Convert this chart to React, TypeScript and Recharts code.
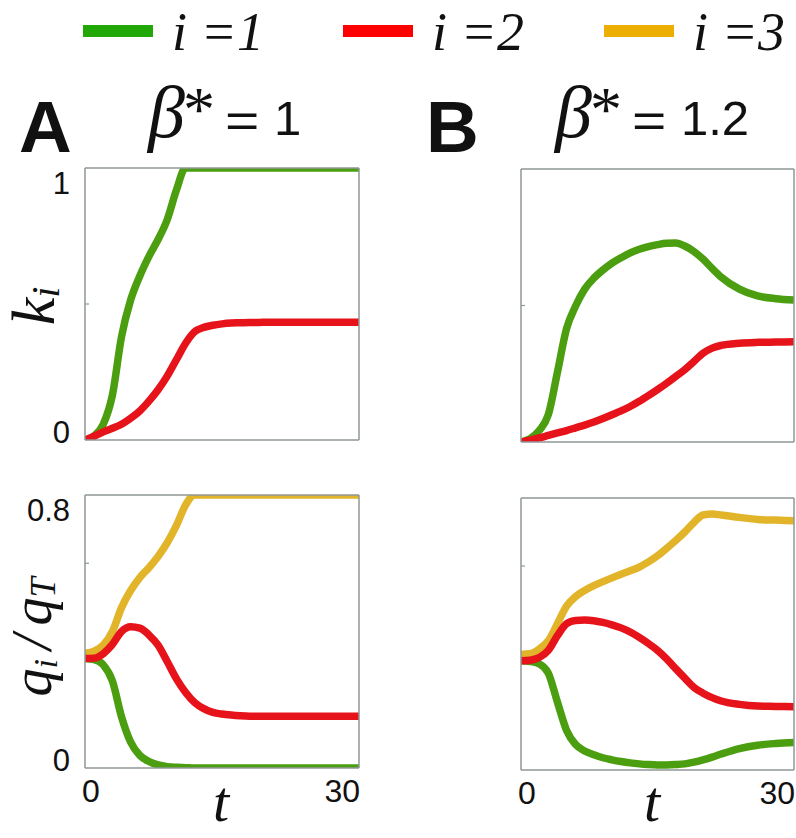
import { LineChart, Line, XAxis, YAxis } from 'recharts'

// time grid shared by all four panels
const tGrid = [0, 1, 2, 3, 4, 5, 6, 7, 8, 9, 10, 11, 12, 13, 14, 15, 16, 17, 18, 19, 20, 21, 22, 24, 26, 28, 30]

// panel A, k_i  (beta* = 1)
const kA1 = [0, 0.015, 0.058, 0.165, 0.38, 0.515, 0.603, 0.675, 0.737, 0.81, 0.918, 1, 1, 1, 1, 1, 1, 1, 1, 1, 1, 1, 1, 1, 1, 1, 1]
const kA2 = [0, 0.014, 0.03, 0.043, 0.058, 0.08, 0.107, 0.143, 0.185, 0.235, 0.295, 0.355, 0.398, 0.414, 0.422, 0.427, 0.43, 0.431, 0.432, 0.432, 0.433, 0.433, 0.433, 0.433, 0.433, 0.433, 0.433]

// panel B, k_i  (beta* = 1.2)
const kB1 = [0, 0.012, 0.042, 0.1, 0.255, 0.415, 0.498, 0.56, 0.6, 0.63, 0.655, 0.675, 0.693, 0.706, 0.716, 0.723, 0.728, 0.729, 0.718, 0.698, 0.67, 0.636, 0.604, 0.56, 0.535, 0.525, 0.52]
const kB2 = [0, 0.007, 0.015, 0.024, 0.033, 0.042, 0.052, 0.062, 0.073, 0.086, 0.1, 0.114, 0.13, 0.149, 0.17, 0.192, 0.215, 0.24, 0.265, 0.295, 0.325, 0.344, 0.354, 0.362, 0.365, 0.366, 0.367]

// panel A, q_i / q_T
const qA1 = [0.321, 0.318, 0.302, 0.255, 0.15, 0.076, 0.037, 0.019, 0.009, 0.004, 0.002, 0.001, 0, 0, 0, 0, 0, 0, 0, 0, 0, 0, 0, 0, 0, 0, 0]
const qA2 = [0.321, 0.322, 0.335, 0.362, 0.4, 0.414, 0.41, 0.39, 0.36, 0.312, 0.262, 0.222, 0.192, 0.174, 0.163, 0.158, 0.155, 0.153, 0.152, 0.152, 0.152, 0.152, 0.152, 0.152, 0.152, 0.152, 0.152]
const qA3 = [0.336, 0.342, 0.36, 0.4, 0.47, 0.52, 0.558, 0.587, 0.62, 0.66, 0.71, 0.77, 0.8, 0.8, 0.8, 0.8, 0.8, 0.8, 0.8, 0.8, 0.8, 0.8, 0.8, 0.8, 0.8, 0.8, 0.8]

// panel B, q_i / q_T
const qB1 = [0.321, 0.319, 0.312, 0.285, 0.2, 0.117, 0.075, 0.056, 0.045, 0.036, 0.03, 0.025, 0.021, 0.018, 0.016, 0.015, 0.015, 0.016, 0.018, 0.023, 0.03, 0.038, 0.047, 0.063, 0.073, 0.078, 0.081]
const qB2 = [0.321, 0.323, 0.331, 0.352, 0.395, 0.43, 0.44, 0.441, 0.439, 0.434, 0.427, 0.418, 0.406, 0.39, 0.372, 0.352, 0.327, 0.298, 0.27, 0.243, 0.226, 0.213, 0.203, 0.193, 0.188, 0.187, 0.186]
const qB3 = [0.34, 0.342, 0.356, 0.38, 0.43, 0.482, 0.51, 0.528, 0.542, 0.554, 0.565, 0.576, 0.586, 0.597, 0.612, 0.63, 0.652, 0.675, 0.7, 0.728, 0.75, 0.753, 0.75, 0.743, 0.737, 0.735, 0.733]

const kTicks = [0, 0.5, 1]
const qTicks = [0, 0.6, 0.8]
const xTicks = [0, 30]
const legendLabels = ['1', '2', '3']

const data = tGrid.map((t, i) => ({
  t,
  kA1: kA1[i], kA2: kA2[i], kB1: kB1[i], kB2: kB2[i],
  qA1: qA1[i], qA2: qA2[i], qA3: qA3[i],
  qB1: qB1[i], qB2: qB2[i], qB3: qB3[i],
}))

const GREEN = '#4b9e10'
const RED = '#e6141a'
const YELLOW = '#e2b42a'
const AXIS = '#8f9797'
const INK = '#111'
const SANS = '"Liberation Sans", Arial, sans-serif'
const SERIF = '"Liberation Serif", "Times New Roman", serif'

const makeLeftTick = (yMax: number, show: boolean) => (p: any) => {
  const v = p.payload.value
  const inner = v !== 0 && v !== yMax
  return (
    <g>
      {inner && <line x1={p.x} x2={p.x + 4} y1={p.y} y2={p.y} stroke={AXIS} strokeWidth={1.2} />}
      {show && !inner && (
        <text x={p.x - 15} y={p.y + (v === yMax ? 26 : 3)} textAnchor="end" fontFamily={SANS} fontSize={31} fill={INK}>
          {String(v)}
        </text>
      )}
    </g>
  )
}

const makeRightTick = (yMax: number) => (p: any) => {
  const v = p.payload.value
  if (v === 0 || v === yMax) return <g />
  return <line x1={p.x - 4} x2={p.x} y1={p.y} y2={p.y} stroke={AXIS} strokeWidth={1.2} />
}

const bottomTick = (p: any) => {
  const v = p.payload.value
  return (
    <text x={v === 0 ? p.x - 3 : p.x + 1} y={p.y + 34} textAnchor={v === 0 ? 'start' : 'end'} fontFamily={SANS} fontSize={32} fill={INK}>
      {String(v)}
    </text>
  )
}

interface PanelProps {
  left: number
  top: number
  width: number
  height: number
  rightW: number
  bottomH: number
  yMax: number
  yTicks: number[]
  showY: boolean
  showX: boolean
  series: { key: string; color: string }[]
}

function Panel({ left, top, width, height, rightW, bottomH, yMax, yTicks, showY, showX, series }: PanelProps) {
  const axisLine = { stroke: AXIS, strokeWidth: 1.5 }
  return (
    <div style={{ position: 'absolute', left, top }}>
      <LineChart width={width} height={height} data={data} margin={{ top: 0, right: 0, bottom: 0, left: 0 }}>
        <XAxis dataKey="t" type="number" domain={[0, 30]} ticks={xTicks} interval={0} allowDataOverflow
          height={bottomH} tickSize={0} tickMargin={0} axisLine={axisLine} tickLine={false}
          tick={showX ? bottomTick : false} />
        <XAxis xAxisId="top" orientation="top" dataKey="t" type="number" domain={[0, 30]} height={10}
          axisLine={axisLine} tickLine={false} tick={false} />
        <YAxis type="number" domain={[0, yMax]} ticks={yTicks} interval={0} allowDataOverflow width={85}
          tickSize={0} tickMargin={0} axisLine={axisLine} tickLine={false} tick={makeLeftTick(yMax, showY)} />
        <YAxis yAxisId="right" orientation="right" type="number" domain={[0, yMax]} ticks={yTicks} interval={0}
          width={rightW} tickSize={0} tickMargin={0} axisLine={axisLine} tickLine={false} tick={makeRightTick(yMax)} />
        {series.map(s => (
          <Line key={s.key} dataKey={s.key} type="monotone" stroke={s.color} strokeWidth={7.5}
            dot={false} activeDot={false} isAnimationActive={false} />
        ))}
      </LineChart>
    </div>
  )
}

function Title({ x, letter, value }: { x: number; letter: string; value: string }) {
  return (
    <g>
      <text x={x} y={152} fontFamily={SANS} fontWeight="bold" fontSize={73} fill={INK}>{letter}</text>
      <text x={x + 129} y={137} fontFamily={SERIF} fontStyle="italic" fontSize={74} fill={INK}>β</text>
      <text x={x + 164} y={131} fontFamily={SERIF} fontSize={64} fill={INK}>*</text>
      <text transform={`translate(${x + 206},137) scale(1.2,1)`} fontFamily={SANS} fontSize={49} fill={INK}>=</text>
      <text x={x + 255} y={135} fontFamily={SANS} fontSize={49} fill={INK}>{value}</text>
    </g>
  )
}

export default function App() {
  const legendColors = ['#22a806', '#ff0000', '#ecae00']
  const legendX = [83, 343, 604]
  return (
    <div style={{ position: 'relative', width: 796, height: 838, background: '#fff', overflow: 'hidden' }}>
      <style>{'body{margin:0}'}</style>
      <Panel left={0} top={158} width={365} height={292} rightW={6} bottomH={10} yMax={1} yTicks={kTicks}
        showY showX={false} series={[{ key: 'kA1', color: GREEN }, { key: 'kA2', color: RED }]} />
      <Panel left={436} top={159} width={360} height={293} rightW={2} bottomH={10} yMax={1} yTicks={kTicks}
        showY={false} showX={false} series={[{ key: 'kB1', color: GREEN }, { key: 'kB2', color: RED }]} />
      <Panel left={0} top={485} width={365} height={343} rightW={6} bottomH={60} yMax={0.8} yTicks={qTicks}
        showY showX series={[{ key: 'qA3', color: YELLOW }, { key: 'qA1', color: GREEN }, { key: 'qA2', color: RED }]} />
      <Panel left={436} top={488} width={360} height={342} rightW={2} bottomH={60} yMax={0.8} yTicks={qTicks}
        showY={false} showX series={[{ key: 'qB3', color: YELLOW }, { key: 'qB1', color: GREEN }, { key: 'qB2', color: RED }]} />

      <svg width={796} height={838} style={{ position: 'absolute', left: 0, top: 0, pointerEvents: 'none' }}>
        {legendLabels.map((lab, i) => (
          <g key={lab}>
            <rect x={legendX[i]} y={25} width={70} height={12} fill={legendColors[i]} />
            <text x={legendX[i] + 89} y={50} fontFamily={SERIF} fontStyle="italic" fontSize={54} fill={INK}>
              {'i =' + lab}
            </text>
          </g>
        ))}

        <Title x={19} letter="A" value="1" />
        <Title x={426} letter="B" value="1.2" />

        <text transform="translate(54,306) rotate(-90)" textAnchor="middle" fontFamily={SERIF} fontStyle="italic" fontSize={62} fill={INK}>
          k<tspan fontSize={40} dy={5}>i</tspan>
        </text>
        <text transform="translate(51,637) rotate(-90)" textAnchor="middle" fontFamily={SERIF} fontStyle="italic" fontSize={56} fill={INK}>
          q<tspan fontSize={34} dy={6}>i</tspan><tspan dx={9} dy={-6}>/</tspan><tspan dx={9}>q</tspan><tspan fontSize={36} dy={4}>T</tspan>
        </text>

        <text x={221} y={821} textAnchor="middle" fontFamily={SERIF} fontStyle="italic" fontSize={58} fill={INK}>t</text>
        <text x={652} y={821} textAnchor="middle" fontFamily={SERIF} fontStyle="italic" fontSize={58} fill={INK}>t</text>
      </svg>
    </div>
  )
}
